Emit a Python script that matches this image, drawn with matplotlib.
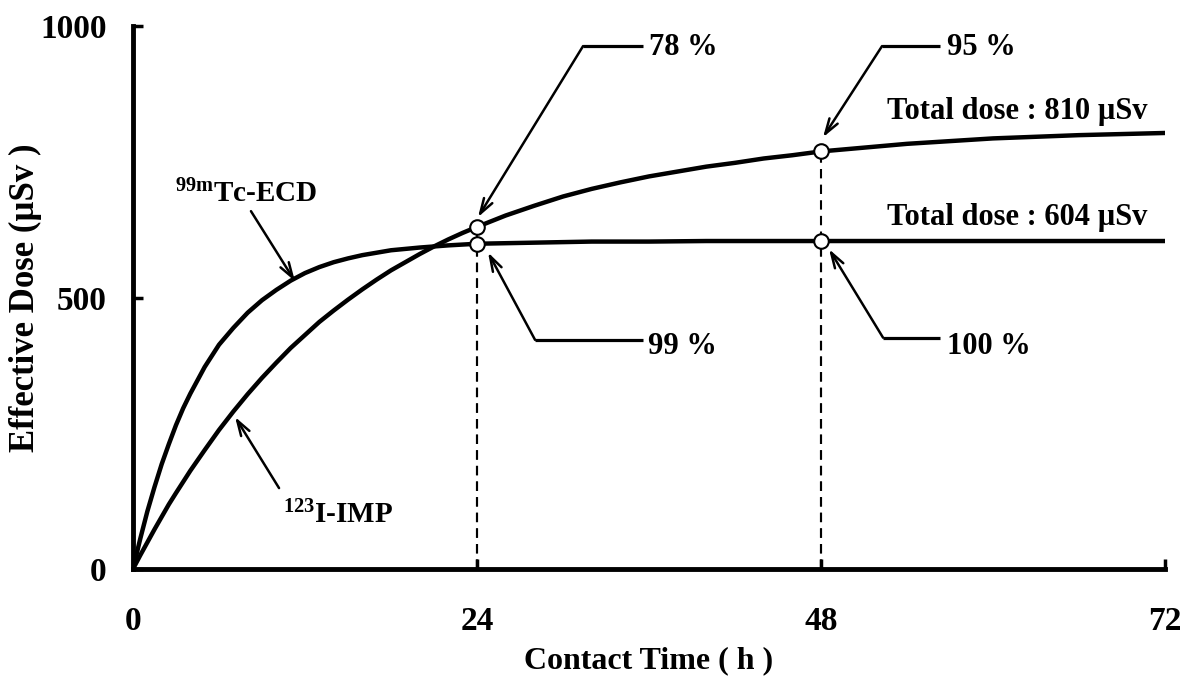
import matplotlib
matplotlib.use("Agg")
import matplotlib.pyplot as plt

plt.rcParams['font.family'] = ['Liberation Serif', 'DejaVu Serif']
plt.rcParams['font.weight'] = 'bold'
plt.rcParams['mathtext.fontset'] = 'custom'
plt.rcParams['mathtext.rm'] = 'Liberation Serif:bold'
plt.rcParams['mathtext.bf'] = 'Liberation Serif:bold'
plt.rcParams['mathtext.it'] = 'Liberation Serif:bold'

# Data
hours_tc = [0, 0.5, 1, 1.5, 2, 2.5, 3, 3.5, 4, 5, 6, 7, 8, 9, 10, 11, 12, 13, 14, 15, 16,
            18, 20, 22, 24, 28, 32, 36, 40, 48, 60, 72]
dose_tc = [0, 55, 106, 151, 193, 230, 265, 296, 323, 372, 413, 444, 472, 495, 514, 531, 545,
           556, 565, 572, 578, 587, 592, 596, 599, 601, 603, 603, 604, 604, 604, 604]

hours_imp = [0, 0.5, 1, 1.5, 2, 2.5, 3, 4, 5, 6, 7, 8, 9, 10, 11, 12, 13, 14, 15, 16, 17, 18,
             19, 20, 21, 22, 23, 24, 26, 28, 30, 32, 34, 36, 38, 40, 42, 44, 46, 48, 54, 60, 66, 72]
dose_imp = [0, 25, 49, 73, 96, 119, 140, 181, 219, 256, 290, 322, 352, 380, 407, 431, 455, 476,
            496, 515, 533, 550, 565, 580, 594, 607, 619, 630, 651, 669, 686, 700, 712, 723, 732,
            741, 748, 756, 762, 769, 783, 793, 799, 803]

marker_hours = [24, 24, 48, 48]
marker_doses = [630, 599, 769, 604]
marker_labels = ['78 %', '99 %', '95 %', '100 %']

x_ticks = [0, 24, 48, 72]
y_ticks = [0, 500, 1000]

fig = plt.figure(figsize=(11.84, 6.76), dpi=100)
ax = fig.add_axes([133/1184, 1 - 569/676, 1032/1184, 543/676])

lw = 3.2
ax.plot(hours_tc, dose_tc, color='black', lw=lw, solid_capstyle='round',
        solid_joinstyle='round', zorder=3)
ax.plot(hours_imp, dose_imp, color='black', lw=lw, solid_capstyle='round',
        solid_joinstyle='round', zorder=3)

# dashed drop lines
for h, d in zip(marker_hours, marker_doses):
    ax.plot([h, h], [0, d], color='black', lw=1.5, ls=(0, (4.5, 3)), zorder=2)
ax.scatter(marker_hours, marker_doses, s=110, facecolor='white', edgecolor='black',
           linewidths=1.5, zorder=5)

ax.set_xlim(0, 72)
ax.set_ylim(0, 1000)
ax.set_xticks(x_ticks)
ax.set_yticks(y_ticks)
ax.set_xticklabels([str(v) for v in x_ticks])
ax.set_yticklabels([str(v) for v in y_ticks])
ax.tick_params(direction='in', length=7, width=2.5, labelsize=24)
ax.tick_params(axis='x', pad=27)
ax.tick_params(axis='y', pad=19)
for s in ['top', 'right']:
    ax.spines[s].set_visible(False)
for s in ['left', 'bottom']:
    ax.spines[s].set_linewidth(3.5)

ax.set_xlabel('Contact Time ( h )', fontsize=23, fontweight='bold')
ax.set_ylabel('Effective Dose (µSv )', fontsize=25, fontweight='bold')
ax.xaxis.set_label_coords(0.5, -0.143)
ax.yaxis.set_label_coords(-0.088, 0.5)

arrow_kw = dict(arrowstyle='->,head_length=1.1,head_width=0.35', color='black', lw=1.8,
                shrinkA=0, shrinkB=0)

def callout(tip, elbow, hend, text, text_xy):
    ax.plot([elbow[0], hend[0]], [elbow[1], elbow[1]], color='black', lw=2.3, clip_on=False,
            solid_capstyle='butt')
    ax.annotate('', xy=tip, xytext=elbow, arrowprops=arrow_kw, annotation_clip=False)
    ax.text(text_xy[0], text_xy[1], text, fontsize=22, fontweight='bold', ha='left',
            va='center')

callout((24.07, 648), (31.4, 963), (35.6, 963), marker_labels[0], (36.0, 961))
callout((24.77, 583), (28.05, 422), (35.6, 422), marker_labels[1], (35.93, 409))
callout((48.14, 795), (52.26, 963), (56.3, 963), marker_labels[2], (56.8, 961))
callout((48.56, 589), (52.33, 426), (56.3, 426), marker_labels[3], (56.8, 409))

ax.text(52.6, 843, 'Total dose : 810 µSv', fontsize=22, fontweight='bold', ha='left', va='center')
ax.text(52.6, 648, 'Total dose : 604 µSv', fontsize=22, fontweight='bold', ha='left', va='center')

ax.text(2.93, 675, r'$^{99m}$Tc-ECD', fontsize=21, fontweight='bold', ha='left', va='baseline')
ax.annotate('', xy=(11.3, 530), xytext=(8.23, 659), arrowprops=arrow_kw)
ax.text(10.47, 85, r'$^{123}$I-IMP', fontsize=21, fontweight='bold', ha='left', va='baseline')
ax.annotate('', xy=(7.12, 280), xytext=(10.19, 149), arrowprops=arrow_kw)

fig.savefig('out.png', dpi=100)
